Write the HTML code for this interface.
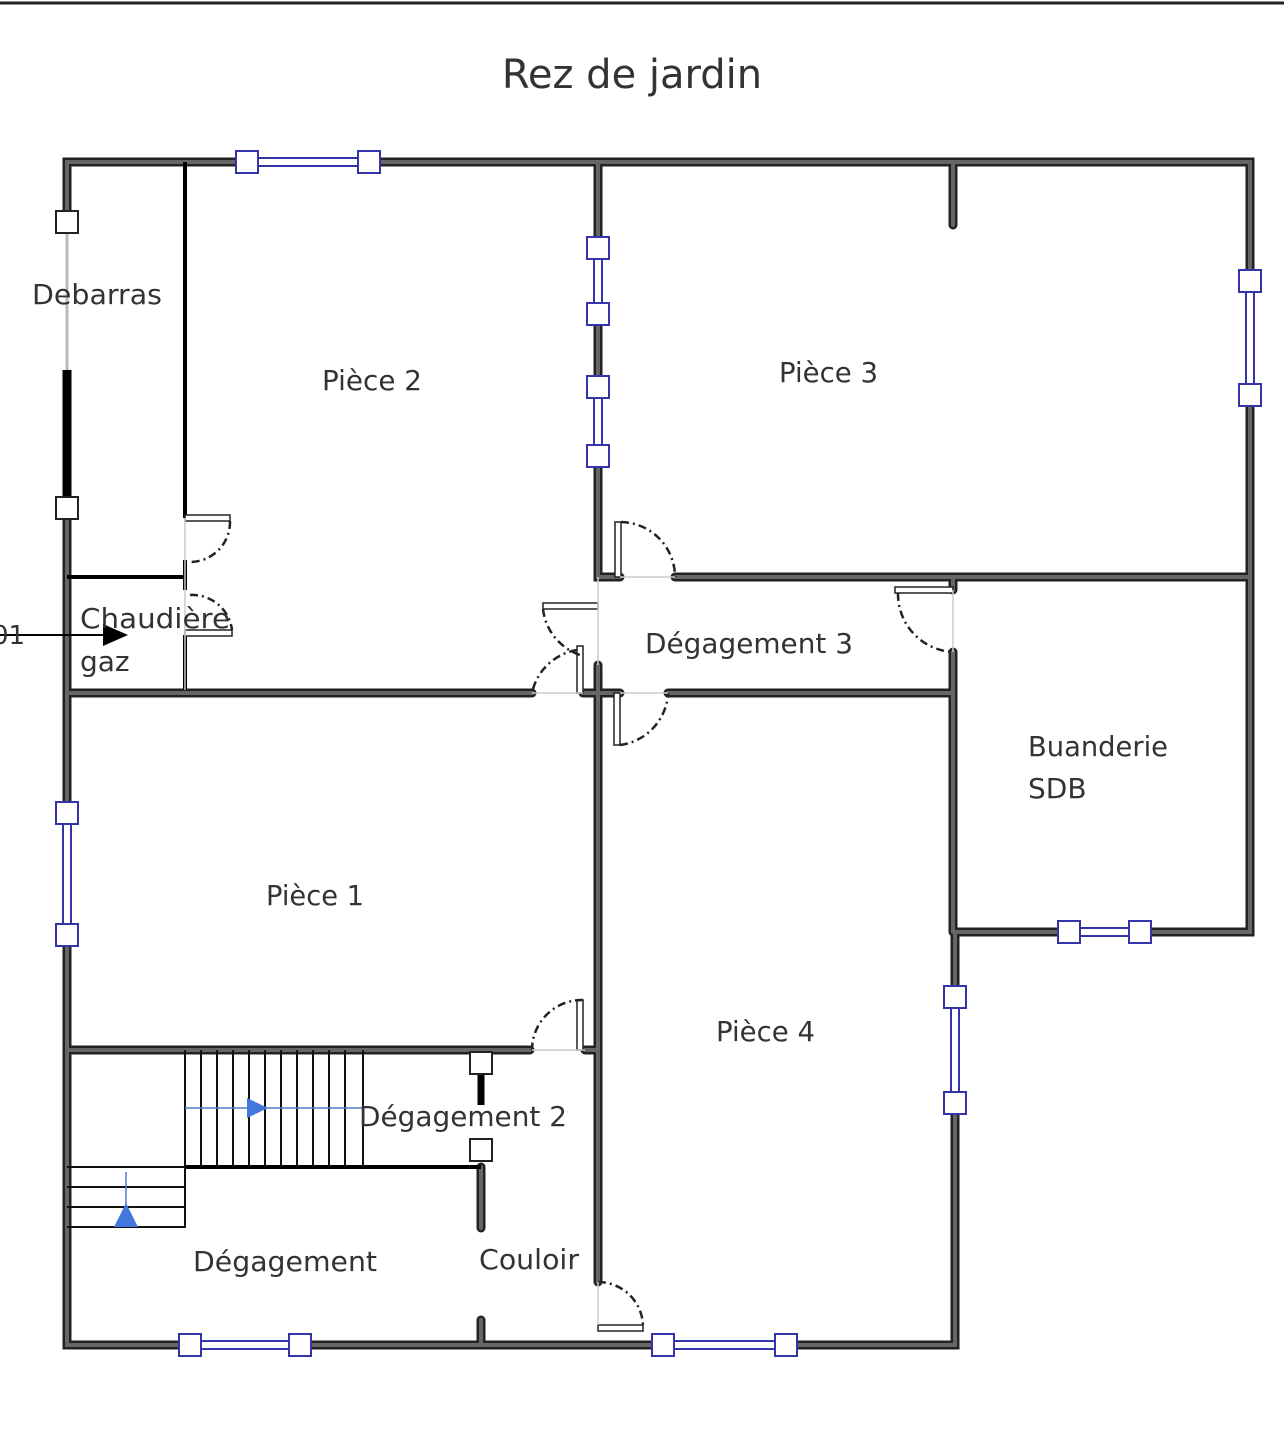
<!DOCTYPE html>
<html><head><meta charset="utf-8"><style>
html,body{margin:0;padding:0;background:#fff}
svg{display:block}
text{font-family:"DejaVu Sans","Liberation Sans",sans-serif;fill:#333}
</style></head><body>
<svg width="1284" height="1455" viewBox="0 0 1284 1455" xmlns="http://www.w3.org/2000/svg">
<line x1="0" y1="3" x2="1284" y2="3" stroke="#222" stroke-width="3"/>
<text x="632" y="88" font-size="40" text-anchor="middle">Rez de jardin</text>

<!-- walls -->
<g stroke="#222" stroke-width="9" stroke-linecap="round" fill="none">
<path d="M67 222 V162 H247 M369 162 H1250 V281 M1250 395 V932 H1140 M1069 932 H955 V997 M955 1103 V1345 H786 M663 1345 H598 M598 1345 H300 M190 1345 H67 V935 M67 813 V508"/>
<path d="M598 162 V248 M598 314 V387 M598 456 V577 H620"/>
<path d="M675 577 H1250"/>
<path d="M953 162 V225"/>
<path d="M953 577 V590 M953 652 V932"/>
<path d="M668 693 H953"/>
<path d="M67 693 H532"/>
<path d="M598 665 V1282"/>
<path d="M67 1050 H530 M585 1050 H598"/>
<path d="M481 1167 V1228 M481 1320 V1345"/>
<path d="M583 693 H620"/>
</g>
<g stroke="#666" stroke-width="4" stroke-linecap="round" fill="none">
<path d="M67 222 V162 H247 M369 162 H1250 V281 M1250 395 V932 H1140 M1069 932 H955 V997 M955 1103 V1345 H786 M663 1345 H598 M598 1345 H300 M190 1345 H67 V935 M67 813 V508"/>
<path d="M598 162 V248 M598 314 V387 M598 456 V577 H620"/>
<path d="M675 577 H1250"/><path d="M953 162 V225"/>
<path d="M953 577 V590 M953 652 V932"/><path d="M668 693 H953"/>
<path d="M67 693 H532"/><path d="M598 665 V1282"/>
<path d="M67 1050 H530 M585 1050 H598"/>
<path d="M481 1167 V1228 M481 1320 V1345"/>
<path d="M583 693 H620"/>
</g>

<!-- thin black walls -->
<g stroke="#000" stroke-width="4" fill="none">
<path d="M185 162 V518 M185 560 V590 M185 635 V690"/>
<path d="M67 577 H185"/>
<path d="M185 1167 H481"/>
<path d="M481 1075 V1105" stroke-width="7"/>
</g>
<line x1="67" y1="222" x2="67" y2="508" stroke="#bbb" stroke-width="3"/>
<line x1="67" y1="370" x2="67" y2="497" stroke="#000" stroke-width="9"/>

<!-- doors -->
<g stroke="#222" stroke-width="1.5" fill="#fff">
<rect x="185" y="515" width="45" height="6"/>
<rect x="185" y="630" width="47" height="6"/>
<rect x="543" y="603" width="55" height="6"/>
<rect x="615" y="522" width="6" height="55"/>
<rect x="577" y="646" width="6" height="47"/>
<rect x="614" y="693" width="6" height="52"/>
<rect x="895" y="587" width="58" height="6"/>
<rect x="577" y="1000" width="6" height="50"/>
<rect x="598" y="1325" width="45" height="6"/>
</g>
<g stroke="#222" stroke-width="2.5" fill="none" stroke-dasharray="8 4 2 4">
<path d="M230 521 A40 40 0 0 1 190 562"/>
<path d="M190 595 A40 40 0 0 1 232 630"/>
<path d="M543 609 A55 55 0 0 0 580 655"/>
<path d="M577 650 A55 55 0 0 0 532 693"/>
<path d="M621 522 A55 55 0 0 1 675 577"/>
<path d="M620 745 A55 55 0 0 0 668 693"/>
<path d="M898 593 A58 58 0 0 0 953 652"/>
<path d="M583 1000 A50 50 0 0 0 532 1050"/>
<path d="M598 1282 A45 45 0 0 1 643 1325"/>
</g>
<g stroke="#ccc" stroke-width="1.5">
<line x1="185" y1="518" x2="185" y2="690"/><line x1="620" y1="577" x2="675" y2="577"/>
<line x1="620" y1="693" x2="668" y2="693"/><line x1="532" y1="693" x2="583" y2="693"/>
<line x1="598" y1="577" x2="598" y2="665"/><line x1="953" y1="590" x2="953" y2="652"/>
<line x1="532" y1="1050" x2="585" y2="1050"/><line x1="598" y1="1282" x2="598" y2="1325"/>
</g>

<!-- windows -->
<g stroke="#33a" stroke-width="2" fill="#fff">
<rect x="247" y="158" width="122" height="8"/>
<rect x="594" y="248" width="8" height="66"/>
<rect x="594" y="387" width="8" height="69"/>
<rect x="1246" y="281" width="8" height="114"/>
<rect x="63" y="813" width="8" height="122"/>
<rect x="1069" y="928" width="71" height="8"/>
<rect x="951" y="997" width="8" height="106"/>
<rect x="190" y="1341" width="110" height="8"/>
<rect x="663" y="1341" width="123" height="8"/>
</g>
<g stroke="#33a" stroke-width="2" fill="#fff">
<rect x="236" y="151" width="22" height="22"/><rect x="358" y="151" width="22" height="22"/>
<rect x="587" y="237" width="22" height="22"/><rect x="587" y="303" width="22" height="22"/>
<rect x="587" y="376" width="22" height="22"/><rect x="587" y="445" width="22" height="22"/>
<rect x="1239" y="270" width="22" height="22"/><rect x="1239" y="384" width="22" height="22"/>
<rect x="56" y="802" width="22" height="22"/><rect x="56" y="924" width="22" height="22"/>
<rect x="1058" y="921" width="22" height="22"/><rect x="1129" y="921" width="22" height="22"/>
<rect x="944" y="986" width="22" height="22"/><rect x="944" y="1092" width="22" height="22"/>
<rect x="179" y="1334" width="22" height="22"/><rect x="289" y="1334" width="22" height="22"/>
<rect x="652" y="1334" width="22" height="22"/><rect x="775" y="1334" width="22" height="22"/>
</g>
<g stroke="#222" stroke-width="2" fill="#fff">
<rect x="56" y="211" width="22" height="22"/><rect x="56" y="497" width="22" height="22"/>
<rect x="470" y="1052" width="22" height="22"/><rect x="470" y="1139" width="22" height="22"/>
</g>

<!-- stairs -->
<g stroke="#111" stroke-width="2" fill="none">
<path d="M185 1050 V1167 M201 1050 V1167 M217 1050 V1167 M233 1050 V1167 M249 1050 V1167 M265 1050 V1167 M281 1050 V1167 M297 1050 V1167 M313 1050 V1167 M329 1050 V1167 M345 1050 V1167 M363 1050 V1167"/>
<path d="M67 1167 H185 V1227 H67 M67 1187 H185 M67 1207 H185"/>
</g>
<line x1="185" y1="1108" x2="363" y2="1108" stroke="#57c" stroke-width="1.5"/>
<polygon points="247,1098 268,1108 247,1118" fill="#47d"/>
<line x1="126" y1="1172" x2="126" y2="1225" stroke="#57c" stroke-width="1.5"/>
<polygon points="114,1227 138,1227 126,1203" fill="#47d"/>

<!-- arrow -->
<line x1="0" y1="635" x2="108" y2="635" stroke="#000" stroke-width="2"/>
<polygon points="103,624 128,635 103,646" fill="#000"/>
<text x="-8" y="644" font-size="26">01</text>

<!-- labels -->
<g font-size="28">
<text x="32" y="304" textLength="130" lengthAdjust="spacingAndGlyphs">Debarras</text>
<text x="322" y="390" textLength="100" lengthAdjust="spacingAndGlyphs">Pièce 2</text>
<text x="779" y="382" textLength="99" lengthAdjust="spacingAndGlyphs">Pièce 3</text>
<text x="80" y="628" textLength="150" lengthAdjust="spacingAndGlyphs">Chaudière</text>
<text x="80" y="671">gaz</text>
<text x="645" y="653" textLength="208" lengthAdjust="spacingAndGlyphs">Dégagement 3</text>
<text x="1028" y="756" textLength="140" lengthAdjust="spacingAndGlyphs">Buanderie</text>
<text x="1028" y="798">SDB</text>
<text x="266" y="905" textLength="98" lengthAdjust="spacingAndGlyphs">Pièce 1</text>
<text x="716" y="1041" textLength="99" lengthAdjust="spacingAndGlyphs">Pièce 4</text>
<text x="359" y="1126" textLength="208" lengthAdjust="spacingAndGlyphs">Dégagement 2</text>
<text x="193" y="1271" textLength="184" lengthAdjust="spacingAndGlyphs">Dégagement</text>
<text x="479" y="1269" textLength="100" lengthAdjust="spacingAndGlyphs">Couloir</text>
</g>
</svg>
</body></html>
